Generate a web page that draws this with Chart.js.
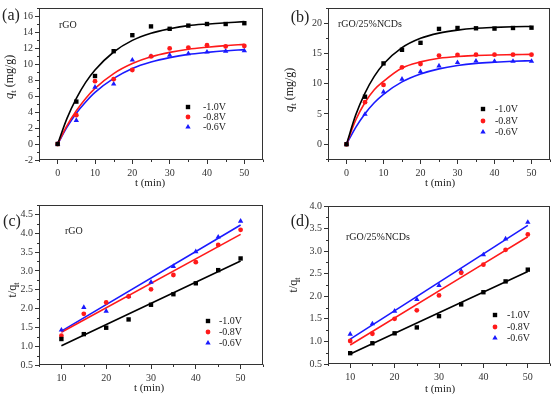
<!DOCTYPE html>
<html>
<head>
<meta charset="utf-8">
<script src="https://cdn.jsdelivr.net/npm/chart.js@4.4.0/dist/chart.umd.min.js"></script>
<style>
  body { margin: 0; background: #fff; }
  .panel { position: absolute; width: 277px; height: 197px; }
</style>
</head>
<body>
<div class="panel" style="left:0;top:0"><canvas id="chartA" width="277" height="197"></canvas></div>
<div class="panel" style="left:277px;top:0"><canvas id="chartB" width="277" height="197"></canvas></div>
<div class="panel" style="left:0;top:197px"><canvas id="chartC" width="277" height="197"></canvas></div>
<div class="panel" style="left:277px;top:197px"><canvas id="chartD" width="277" height="197"></canvas></div>
<script>
const SERIF = "'Liberation Serif', 'Times New Roman', serif";
const seriesNames = ["-1.0V", "-0.8V", "-0.6V"];

// (a) rGO, q_t vs t
const timeQ = [0, 5, 10, 15, 20, 25, 30, 35, 40, 45, 50];
const a_10 = [0, 5.3, 8.5, 11.6, 13.6, 14.7, 14.4, 14.8, 15.0, 15.0, 15.1];
const a_08 = [0, 3.6, 7.85, 8.1, 9.25, 10.95, 11.95, 12.05, 12.35, 12.2, 12.25];
const a_06 = [0, 2.95, 7.1, 7.5, 10.5, 10.95, 11.1, 11.3, 11.5, 11.6, 11.65];
const fitTime = [0, 2.5, 5, 7.5, 10, 15, 20, 25, 30, 35, 40, 45, 50];
const aFit_10 = [0, 3.2, 5.7, 7.7, 9.25, 11.5, 12.95, 13.85, 14.4, 14.8, 15.0, 15.15, 15.3];
const aFit_08 = [0, 2.3, 4.15, 5.7, 6.95, 8.8, 10.05, 10.9, 11.45, 11.85, 12.1, 12.3, 12.45];
const aFit_06 = [0, 2.1, 3.85, 5.25, 6.45, 8.2, 9.45, 10.25, 10.8, 11.2, 11.45, 11.65, 11.8];

// (b) rGO/25%NCDs, q_t vs t
const b_10 = [0, 7.85, 13.35, 15.6, 16.75, 19.05, 19.2, 19.15, 19.1, 19.2, 19.25];
const b_08 = [0, 6.95, 9.8, 12.7, 13.25, 14.65, 14.75, 14.8, 14.8, 14.8, 14.8];
const b_06 = [0, 4.95, 8.65, 10.75, 12.0, 12.95, 13.5, 13.75, 13.7, 13.7, 13.7];
const bFit_10 = [0, 4.85, 8.45, 11.2, 13.25, 15.95, 17.5, 18.35, 18.85, 19.15, 19.3, 19.4, 19.45];
const bFit_08 = [0, 4.0, 6.9, 9.0, 10.4, 12.6, 13.6, 14.2, 14.5, 14.65, 14.75, 14.8, 14.85];
const bFit_06 = [0, 2.8, 5.05, 6.85, 8.25, 10.3, 11.6, 12.45, 13.0, 13.35, 13.55, 13.7, 13.8];

// (c) rGO, t/q_t vs t
const timeL = [10, 15, 20, 25, 30, 35, 40, 45, 50];
const c_10 = [1.19, 1.32, 1.49, 1.71, 2.1, 2.38, 2.67, 3.02, 3.33];
const c_08 = [1.28, 1.86, 2.16, 2.32, 2.51, 2.89, 3.23, 3.69, 4.09];
const c_06 = [1.43, 2.03, 1.93, 2.32, 2.7, 3.12, 3.51, 3.9, 4.32];
const lineTime = [10, 50];
const cFit_10 = [1.01, 3.26];
const cFit_08 = [1.37, 3.97];
const cFit_06 = [1.40, 4.22];

// (d) rGO/25%NCDs, t/q_t vs t
const d_10 = [0.74, 0.96, 1.18, 1.31, 1.56, 1.82, 2.09, 2.33, 2.59];
const d_08 = [1.01, 1.17, 1.5, 1.69, 2.02, 2.52, 2.7, 3.03, 3.37];
const d_06 = [1.16, 1.39, 1.67, 1.93, 2.24, 2.56, 2.92, 3.27, 3.64];
const dFit_10 = [0.72, 2.55];
const dFit_08 = [0.92, 3.32];
const dFit_06 = [1.05, 3.57];

// tick labels
const xTicksQ = [0, 10, 20, 30, 40, 50];
const xTicksL = [10, 20, 30, 40, 50];
const yTicksA = [-2, 0, 2, 4, 6, 8, 10, 12, 14, 16];
const yTicksB = [0, 5, 10, 15, 20];
const yTicksC = [0.5, 1.0, 1.5, 2.0, 2.5, 3.0, 3.5, 4.0, 4.5];
const yTicksD = [0.5, 1.0, 1.5, 2.0, 2.5, 3.0, 3.5, 4.0];

const colors = ["#000000", "#ff1a1a", "#1a1aff"];
const markers = ["rect", "circle", "triangle"];
const radii = [3.1, 2.4, 3.1];

function toPoints(xs, ys) {
  return xs.map((x, i) => ({ x: x, y: ys[i] }));
}

function makeDatasets(xs, sets, fitXs, fits) {
  const out = [];
  sets.forEach((ys, i) => {
    out.push({
      label: seriesNames[i],
      data: toPoints(xs, ys),
      showLine: false,
      pointStyle: markers[i],
      pointRadius: radii[i],
      backgroundColor: colors[i],
      borderColor: colors[i],
      borderWidth: 0,
    });
  });
  fits.forEach((ys, i) => {
    out.push({
      label: seriesNames[i] + " fit",
      data: toPoints(fitXs, ys),
      showLine: true,
      pointRadius: 0,
      borderColor: colors[i],
      borderWidth: 1.6,
      cubicInterpolationMode: "monotone",
    });
  });
  return out;
}

function drawMarker(ctx, style, x, y, r, color) {
  ctx.fillStyle = color;
  ctx.beginPath();
  if (style === "rect") {
    const s = r * Math.SQRT1_2;
    ctx.rect(x - s, y - s, 2 * s, 2 * s);
  } else if (style === "circle") {
    ctx.arc(x, y, r, 0, Math.PI * 2);
  } else {
    ctx.moveTo(x, y - r);
    ctx.lineTo(x + r * 0.87, y + r * 0.5);
    ctx.lineTo(x - r * 0.87, y + r * 0.5);
    ctx.closePath();
  }
  ctx.fill();
}

function minorValues(major, min, max) {
  const vals = [];
  for (let i = 0; i < major.length - 1; i++) vals.push((major[i] + major[i + 1]) / 2);
  const step = major[1] - major[0];
  const first = major[0] - step / 2, last = major[major.length - 1] + step / 2;
  if (first >= min) vals.push(first);
  if (last <= max) vals.push(last);
  return vals;
}

// frame, minor ticks, labels, legend and axis titles
const panelDecor = {
  id: "panelDecor",
  afterDraw(chart, args, o) {
    const ctx = chart.ctx, a = chart.chartArea;
    const xs = chart.scales.x, ys = chart.scales.y;
    ctx.save();
    ctx.strokeStyle = "#333";
    ctx.lineWidth = 1;
    const L = Math.round(a.left) + 0.5, T = Math.round(a.top) + 0.5;
    const R = Math.round(a.right) - 0.5, B = Math.round(a.bottom) - 0.5;
    ctx.strokeRect(L, T, R - L, B - T);

    ctx.beginPath();
    minorValues(o.xMajor, xs.min, xs.max).forEach(v => {
      const px = Math.round(xs.getPixelForValue(v)) + 0.5;
      ctx.moveTo(px, B); ctx.lineTo(px, B + 2.5);
    });
    minorValues(o.yMajor, ys.min, ys.max).forEach(v => {
      const py = Math.round(ys.getPixelForValue(v)) + 0.5;
      ctx.moveTo(L, py); ctx.lineTo(L - 2.5, py);
    });
    ctx.stroke();

    ctx.fillStyle = "#222";
    ctx.textBaseline = "middle";
    ctx.textAlign = "center";
    ctx.font = "16px " + SERIF;
    ctx.fillText(o.tag, o.tagPos[0], o.tagPos[1]);

    ctx.textAlign = "left";
    ctx.font = "10px " + SERIF;
    ctx.fillText(o.sample, o.samplePos[0], o.samplePos[1]);

    o.legendRows.forEach((y, i) => {
      drawMarker(ctx, markers[i], o.legendX[0], y, radii[i], colors[i]);
      ctx.fillStyle = "#222";
      ctx.fillText(seriesNames[i], o.legendX[1], y);
    });

    ctx.textAlign = "center";
    ctx.font = "11px " + SERIF;
    ctx.fillText("t (min)", o.xTitlePos[0], o.xTitlePos[1]);

    // rotated y title with subscript
    ctx.translate(o.yTitlePos[0], o.yTitlePos[1]);
    ctx.rotate(-Math.PI / 2);
    ctx.textAlign = "left";
    ctx.textBaseline = "alphabetic";
    const parts = o.yTitle;
    let total = 0;
    parts.forEach(p => { ctx.font = p.font; total += ctx.measureText(p.text).width; });
    let cx = -total / 2;
    parts.forEach(p => {
      ctx.font = p.font;
      ctx.fillText(p.text, cx, 4 + (p.dy || 0));
      cx += ctx.measureText(p.text).width;
    });
    ctx.restore();
  }
};

const qTitle = [
  { text: "q", font: "italic 13px " + SERIF },
  { text: "t", font: "9px " + SERIF, dy: 3 },
  { text: " (mg/g)", font: "12px " + SERIF },
];
const tqTitle = [
  { text: "t/q", font: "12px " + SERIF },
  { text: "t", font: "8px " + SERIF, dy: 3 },
];

function createPanel(id, cfg) {
  const ctx = document.getElementById(id).getContext("2d");
  const tickFont = { family: SERIF, size: 10 };
  return new Chart(ctx, {
    type: "scatter",
    data: { datasets: cfg.datasets },
    options: {
      responsive: false,
      animation: false,
      layout: { padding: cfg.padding },
      plugins: {
        legend: { display: false },
        tooltip: { enabled: false },
        panelDecor: cfg.decor,
      },
      scales: {
        x: {
          type: "linear",
          min: cfg.xRange[0],
          max: cfg.xRange[1],
          afterBuildTicks: s => { s.ticks = cfg.xTicks.map(v => ({ value: v })); },
          afterFit: s => { s.height = cfg.xHeight; },
          ticks: { font: tickFont, color: "#333", padding: 3, maxRotation: 0, autoSkip: false },
          grid: { drawOnChartArea: false, tickLength: 4, color: "#333" },
          border: { display: false },
        },
        y: {
          type: "linear",
          min: cfg.yRange[0],
          max: cfg.yRange[1],
          afterBuildTicks: s => { s.ticks = cfg.yTicks.map(v => ({ value: v })); },
          afterFit: s => { s.width = cfg.yWidth; },
          ticks: {
            font: tickFont, color: "#333", padding: 2, autoSkip: false,
            callback: v => (cfg.decimals ? v.toFixed(1) : String(v)),
          },
          grid: { drawOnChartArea: false, tickLength: 4, color: "#333" },
          border: { display: false },
        },
      },
    },
    plugins: [panelDecor],
  });
}

createPanel("chartA", {
  datasets: makeDatasets(timeQ, [a_10, a_08, a_06], fitTime, [aFit_10, aFit_08, aFit_06]),
  xRange: [-5, 55], yRange: [-2, 17], xTicks: xTicksQ, yTicks: yTicksA,
  yWidth: 39, xHeight: 37, padding: { top: 0, right: 14, left: 0, bottom: 0 },
  decor: {
    xMajor: xTicksQ, yMajor: yTicksA, tag: "(a)", tagPos: [11, 16],
    sample: "rGO", samplePos: [59, 25], legendX: [188, 203], legendRows: [107, 117, 127],
    xTitlePos: [150, 183], yTitlePos: [9, 77], yTitle: qTitle,
  },
});

createPanel("chartB", {
  datasets: makeDatasets(timeQ, [b_10, b_08, b_06], fitTime, [bFit_10, bFit_08, bFit_06]),
  xRange: [-5, 55], yRange: [-2.6, 22.5], xTicks: xTicksQ, yTicks: yTicksB,
  yWidth: 51, xHeight: 37, padding: { top: 0, right: 2, left: 0, bottom: 0 },
  decor: {
    xMajor: xTicksQ, yMajor: yTicksB, tag: "(b)", tagPos: [23, 18],
    sample: "rGO/25%NCDs", samplePos: [61, 24], legendX: [206, 218], legendRows: [109, 121, 132],
    xTitlePos: [163, 183], yTitlePos: [12, 90], yTitle: qTitle,
  },
});

createPanel("chartC", {
  datasets: makeDatasets(timeL, [c_10, c_08, c_06], lineTime, [cFit_10, cFit_08, cFit_06]),
  xRange: [5, 55], yRange: [0.5, 4.75], xTicks: xTicksL, yTicks: yTicksC, decimals: true,
  yWidth: 39, xHeight: 29, padding: { top: 8, right: 14, left: 0, bottom: 0 },
  decor: {
    xMajor: xTicksL, yMajor: yTicksC, tag: "(c)", tagPos: [12, 25],
    sample: "rGO", samplePos: [65, 34], legendX: [208, 219], legendRows: [124, 135, 146],
    xTitlePos: [149, 191], yTitlePos: [12, 93], yTitle: tqTitle,
  },
});

createPanel("chartD", {
  datasets: makeDatasets(timeL, [d_10, d_08, d_06], lineTime, [dFit_10, dFit_08, dFit_06]),
  xRange: [5, 55], yRange: [0.5, 4.0], xTicks: xTicksL, yTicks: yTicksD, decimals: true,
  yWidth: 51, xHeight: 30, padding: { top: 9, right: 2, left: 0, bottom: 0 },
  decor: {
    xMajor: xTicksL, yMajor: yTicksD, tag: "(d)", tagPos: [23, 25],
    sample: "rGO/25%NCDs", samplePos: [69, 40], legendX: [218, 230], legendRows: [118, 130, 141],
    xTitlePos: [163, 192], yTitlePos: [16, 88], yTitle: tqTitle,
  },
});
</script>
</body>
</html>
